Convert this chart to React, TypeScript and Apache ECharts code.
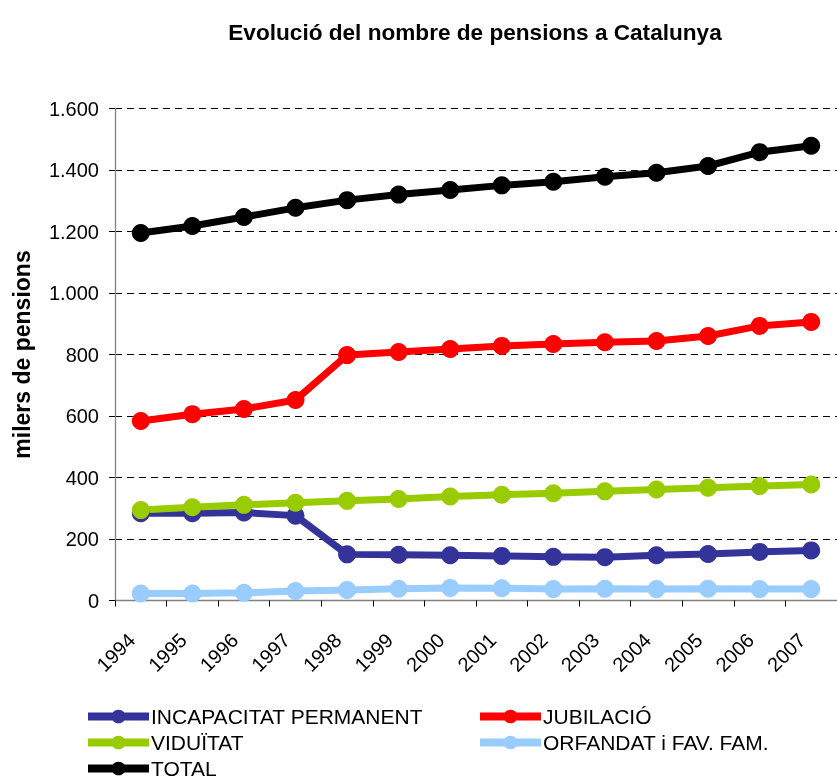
import React, { useEffect, useRef } from "react";
import * as echarts from "echarts";

const years = ["1994", "1995", "1996", "1997", "1998", "1999", "2000", "2001", "2002", "2003", "2004", "2005", "2006", "2007"];
const incapacitat = [284, 284, 286, 276, 150, 149, 147, 145, 142, 141, 147, 151, 158, 163];
const jubilacio = [584, 606, 623, 652, 798, 808, 818, 828, 834, 840, 844, 860, 893, 906];
const viduitat = [294, 303, 311, 318, 324, 330, 338, 344, 349, 355, 361, 367, 372, 377];
const orfandat = [23, 23, 25, 31, 34, 38, 41, 40, 37, 38, 37, 38, 37, 37];
const total = [1195, 1218, 1247, 1277, 1302, 1320, 1335, 1350, 1362, 1378, 1391, 1413, 1458, 1479];

const FONT = "'Liberation Sans', Arial, sans-serif";

export default function App() {
  const ref = useRef<HTMLDivElement>(null);
  useEffect(() => {
    if (!ref.current) return;
    const chart = echarts.init(ref.current, null, { renderer: "svg" });
    const mk = (name: string, data: number[], color: string) => ({
      name,
      type: "line",
      data,
      symbol: "circle",
      symbolSize: 18,
      lineStyle: { width: 7, color },
      itemStyle: { color },
      emphasis: { disabled: true },
    });
    const legendBase = {
      orient: "vertical",
      top: 706,
      height: 90,
      padding: 0,
      itemWidth: 61,
      itemHeight: 17,
      itemGap: 5,
      lineStyle: { width: 8 },
      textStyle: { fontFamily: FONT, fontSize: 21, lineHeight: 21, color: "#000", padding: [0, 0, 0, -3] },
    };
    chart.setOption({
      animation: false,
      textStyle: { fontFamily: FONT },
      title: {
        text: "Evolució del nombre de pensions a Catalunya",
        left: 470,
        top: 16,
        textAlign: "center",
        textStyle: { fontFamily: FONT, fontSize: 22.6, fontWeight: "bold", color: "#000" },
      },
      grid: { left: 115, top: 108.5, width: 723, height: 492, containLabel: false },
      xAxis: {
        type: "category",
        data: years,
        boundaryGap: true,
        axisLine: { lineStyle: { color: "#808080", width: 1.3 } },
        axisTick: { show: true, length: 6, lineStyle: { color: "#000" } },
        axisLabel: {
          rotate: 45,
          margin: 27,
          fontSize: 20,
          color: "#000",
          fontFamily: FONT,
          interval: 0,
          padding: [0, 13, 0, 0],
        },
        splitLine: { show: false },
      },
      yAxis: {
        type: "value",
        min: 0,
        max: 1600,
        interval: 200,
        name: "milers de pensions",
        nameLocation: "middle",
        nameGap: 82,
        nameRotate: 90,
        nameTextStyle: { fontFamily: FONT, fontSize: 23, fontWeight: "bold", color: "#000" },
        axisLine: { show: true, lineStyle: { color: "#808080", width: 1.3 } },
        axisTick: { show: true, length: 6, lineStyle: { color: "#000" } },
        axisLabel: {
          margin: 16,
          fontSize: 20,
          color: "#000",
          fontFamily: FONT,
          formatter: (v: number) => (v >= 1000 ? Math.floor(v / 1000) + "." + String(v % 1000).padStart(3, "0") : String(v)),
        },
        splitLine: { show: true, lineStyle: { color: "#000", type: [7, 5], width: 1 } },
      },
      legend: [
        { ...legendBase, data: ["INCAPACITAT PERMANENT", "VIDUÏTAT", "TOTAL"], left: 84 },
        { ...legendBase, data: ["JUBILACIÓ", "ORFANDAT i FAV. FAM."], left: 476 },
      ],
      series: [
        mk("INCAPACITAT PERMANENT", incapacitat, "#333399"),
        mk("JUBILACIÓ", jubilacio, "#FF0000"),
        mk("VIDUÏTAT", viduitat, "#99CC00"),
        mk("ORFANDAT i FAV. FAM.", orfandat, "#99CCFF"),
        mk("TOTAL", total, "#000000"),
      ],
    });
    return () => chart.dispose();
  }, []);
  return <div ref={ref} style={{ position: "fixed", left: 0, top: 0, width: 837, height: 780 }} />;
}
